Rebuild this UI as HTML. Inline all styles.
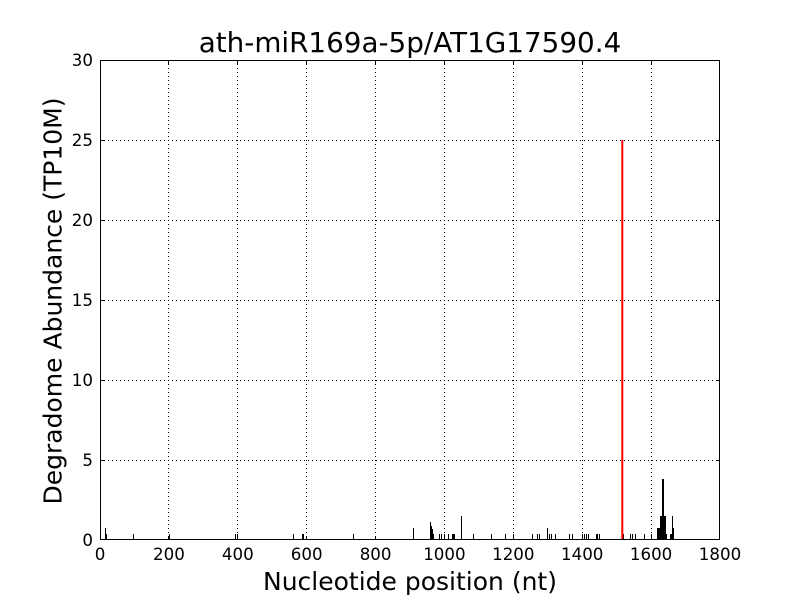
<!DOCTYPE html>
<html><head><meta charset="utf-8"><style>
html,body{margin:0;padding:0;background:#fff;}
svg{display:block;}
text{font-family:"DejaVu Sans","Liberation Sans",sans-serif;fill:#000;}
</style></head><body>
<svg width="800" height="600" viewBox="0 0 800 600" xmlns="http://www.w3.org/2000/svg">
<rect x="0" y="0" width="800" height="600" fill="#fff"/>
<g stroke="#000" stroke-width="1" stroke-dasharray="1,3" fill="none">
<line x1="168.5" y1="60" x2="168.5" y2="540"/>
<line x1="237.5" y1="60" x2="237.5" y2="540"/>
<line x1="306.5" y1="60" x2="306.5" y2="540"/>
<line x1="375.5" y1="60" x2="375.5" y2="540"/>
<line x1="444.5" y1="60" x2="444.5" y2="540"/>
<line x1="513.5" y1="60" x2="513.5" y2="540"/>
<line x1="582.5" y1="60" x2="582.5" y2="540"/>
<line x1="651.5" y1="60" x2="651.5" y2="540"/>
<line x1="100" y1="460.5" x2="720" y2="460.5"/>
<line x1="100" y1="380.5" x2="720" y2="380.5"/>
<line x1="100" y1="300.5" x2="720" y2="300.5"/>
<line x1="100" y1="220.5" x2="720" y2="220.5"/>
<line x1="100" y1="140.5" x2="720" y2="140.5"/>
</g>
<g fill="#000" shape-rendering="crispEdges">
<rect x="105" y="528" width="1" height="12"/>
<rect x="106" y="534" width="1" height="6"/>
<rect x="133" y="534" width="1" height="6"/>
<rect x="169" y="534" width="1" height="6"/>
<rect x="235" y="534" width="1" height="6"/>
<rect x="237" y="534" width="1" height="6"/>
<rect x="293" y="534" width="1" height="6"/>
<rect x="302" y="534" width="1" height="6"/>
<rect x="303" y="534" width="1" height="6"/>
<rect x="353" y="534" width="1" height="6"/>
<rect x="413" y="528" width="1" height="12"/>
<rect x="430" y="522" width="1" height="18"/>
<rect x="431" y="526" width="1" height="14"/>
<rect x="432" y="529" width="1" height="11"/>
<rect x="433" y="534" width="1" height="6"/>
<rect x="439" y="534" width="1" height="6"/>
<rect x="441" y="534" width="1" height="6"/>
<rect x="444" y="534" width="1" height="6"/>
<rect x="448" y="534" width="1" height="6"/>
<rect x="452" y="534" width="3" height="6"/>
<rect x="461" y="516" width="1" height="24"/>
<rect x="473" y="534" width="1" height="6"/>
<rect x="491" y="534" width="1" height="6"/>
<rect x="505" y="534" width="1" height="6"/>
<rect x="513" y="534" width="1" height="6"/>
<rect x="532" y="534" width="1" height="6"/>
<rect x="537" y="534" width="1" height="6"/>
<rect x="539" y="534" width="1" height="6"/>
<rect x="547" y="528" width="1" height="12"/>
<rect x="549" y="534" width="1" height="6"/>
<rect x="551" y="534" width="1" height="6"/>
<rect x="555" y="534" width="1" height="6"/>
<rect x="569" y="534" width="1" height="6"/>
<rect x="572" y="534" width="1" height="6"/>
<rect x="582" y="534" width="1" height="6"/>
<rect x="584" y="534" width="1" height="6"/>
<rect x="586" y="534" width="1" height="6"/>
<rect x="588" y="534" width="1" height="6"/>
<rect x="596" y="534" width="1" height="6"/>
<rect x="597" y="534" width="1" height="6"/>
<rect x="599" y="534" width="1" height="6"/>
<rect x="623" y="534" width="1" height="6"/>
<rect x="630" y="534" width="1" height="6"/>
<rect x="632" y="534" width="1" height="6"/>
<rect x="635" y="534" width="1" height="6"/>
<rect x="644" y="534" width="1" height="6"/>
<rect x="651" y="534" width="1" height="6"/>
<rect x="657" y="528" width="3" height="12"/>
<rect x="660" y="516" width="2" height="24"/>
<rect x="662" y="479" width="2" height="61"/>
<rect x="664" y="516" width="2" height="24"/>
<rect x="666" y="534" width="1" height="6"/>
<rect x="670" y="534" width="2" height="6"/>
<rect x="672" y="516" width="1" height="24"/>
<rect x="673" y="528" width="1" height="12"/>
</g>
<line x1="622.3" y1="540" x2="622.3" y2="140" stroke="#ff0000" stroke-width="2"/>
<rect x="100.5" y="60.5" width="619" height="479" fill="none" stroke="#000" stroke-width="1"/>
<g stroke="#000" stroke-width="1">
<line x1="168.5" y1="540" x2="168.5" y2="536"/><line x1="168.5" y1="60" x2="168.5" y2="64"/>
<line x1="237.5" y1="540" x2="237.5" y2="536"/><line x1="237.5" y1="60" x2="237.5" y2="64"/>
<line x1="306.5" y1="540" x2="306.5" y2="536"/><line x1="306.5" y1="60" x2="306.5" y2="64"/>
<line x1="375.5" y1="540" x2="375.5" y2="536"/><line x1="375.5" y1="60" x2="375.5" y2="64"/>
<line x1="444.5" y1="540" x2="444.5" y2="536"/><line x1="444.5" y1="60" x2="444.5" y2="64"/>
<line x1="513.5" y1="540" x2="513.5" y2="536"/><line x1="513.5" y1="60" x2="513.5" y2="64"/>
<line x1="582.5" y1="540" x2="582.5" y2="536"/><line x1="582.5" y1="60" x2="582.5" y2="64"/>
<line x1="651.5" y1="540" x2="651.5" y2="536"/><line x1="651.5" y1="60" x2="651.5" y2="64"/>
<line x1="100" y1="460.5" x2="104" y2="460.5"/><line x1="720" y1="460.5" x2="716" y2="460.5"/>
<line x1="100" y1="380.5" x2="104" y2="380.5"/><line x1="720" y1="380.5" x2="716" y2="380.5"/>
<line x1="100" y1="300.5" x2="104" y2="300.5"/><line x1="720" y1="300.5" x2="716" y2="300.5"/>
<line x1="100" y1="220.5" x2="104" y2="220.5"/><line x1="720" y1="220.5" x2="716" y2="220.5"/>
<line x1="100" y1="140.5" x2="104" y2="140.5"/><line x1="720" y1="140.5" x2="716" y2="140.5"/>
</g>
<g font-size="16.67" text-anchor="middle">
<text x="100" y="560">0</text>
<text x="168.9" y="560">200</text>
<text x="237.8" y="560">400</text>
<text x="306.7" y="560">600</text>
<text x="375.6" y="560">800</text>
<text x="444.4" y="560">1000</text>
<text x="513.3" y="560">1200</text>
<text x="582.2" y="560">1400</text>
<text x="651.1" y="560">1600</text>
<text x="720" y="560">1800</text>
</g>
<g font-size="16.67" text-anchor="end">
<text x="93" y="546">0</text>
<text x="93" y="466">5</text>
<text x="93" y="386">10</text>
<text x="93" y="306">15</text>
<text x="93" y="226">20</text>
<text x="93" y="146">25</text>
<text x="93" y="66">30</text>
</g>
<text x="410" y="52" font-size="27.8" text-anchor="middle">ath-miR169a-5p/AT1G17590.4</text>
<text x="410" y="590" font-size="25" text-anchor="middle">Nucleotide position (nt)</text>
<text x="0" y="0" font-size="25" text-anchor="middle" transform="translate(61.5,301) rotate(-90)">Degradome Abundance (TP10M)</text>
</svg>
</body></html>
